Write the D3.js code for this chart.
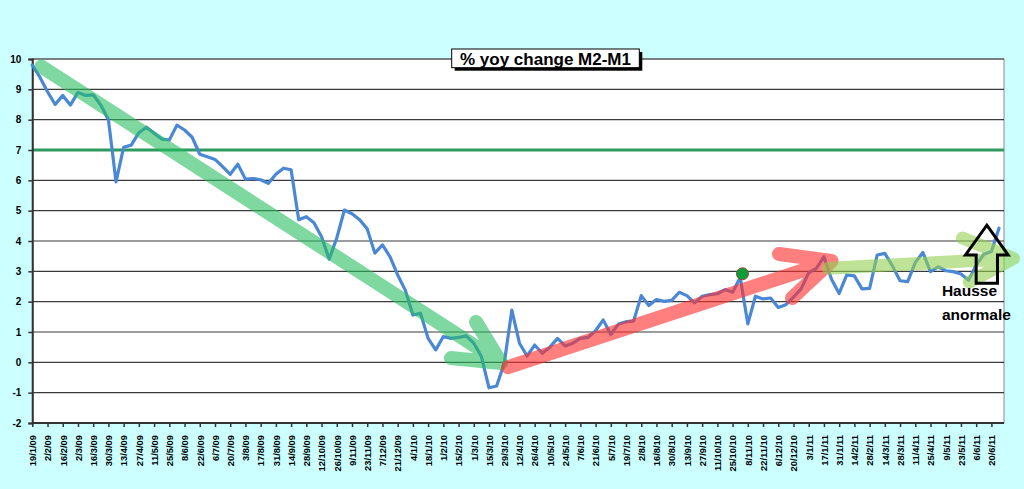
<!DOCTYPE html>
<html>
<head>
<meta charset="utf-8">
<script src="https://cdn.jsdelivr.net/npm/d3@7"></script>
<style>
html,body{margin:0;padding:0;background:#CCFFFF;}
svg{display:block;}
text{font-family:"Liberation Sans",Arial,sans-serif;}
</style>
</head>
<body>
<svg id="chart" width="1024" height="489"></svg>
<script>
// ---- data ----
const tickLabels = [
 "19/1/09","2/2/09","16/2/09","2/3/09","16/3/09","30/3/09","13/4/09","27/4/09","11/5/09","25/5/09",
 "8/6/09","22/6/09","6/7/09","20/7/09","3/8/09","17/8/09","31/8/09","14/9/09","28/9/09","12/10/09",
 "26/10/09","9/11/09","23/11/09","7/12/09","21/12/09","4/1/10","18/1/10","1/2/10","15/2/10","1/3/10",
 "15/3/10","29/3/10","12/4/10","26/4/10","10/5/10","24/5/10","7/6/10","21/6/10","5/7/10","19/7/10",
 "2/8/10","16/8/10","30/8/10","13/9/10","27/9/10","11/10/10","25/10/10","8/11/10","22/11/10","6/12/10",
 "20/12/10","3/1/11","17/1/11","31/1/11","14/2/11","28/2/11","14/3/11","28/3/11","11/4/11","25/4/11",
 "9/5/11","23/5/11","6/6/11","20/6/11"
];
// weekly values, % yoy change M2-M1
const seriesValues = [
 9.80,9.40,8.92,8.50,8.80,8.48,8.90,8.80,8.82,8.48,
 8.00,5.95,7.09,7.16,7.57,7.75,7.55,7.36,7.33,7.82,
 7.66,7.42,6.86,6.78,6.69,6.45,6.20,6.53,6.04,6.06,
 6.02,5.90,6.20,6.40,6.35,4.70,4.80,4.60,4.14,3.40,
 4.10,5.02,4.90,4.70,4.40,3.60,3.87,3.48,2.88,2.38,
 1.56,1.62,0.79,0.41,0.85,0.79,0.82,0.87,0.63,0.19,
 -0.84,-0.78,-0.03,1.72,0.63,0.21,0.57,0.30,0.50,0.79,
 0.54,0.63,0.79,0.82,1.04,1.40,0.92,1.26,1.34,1.36,
 2.20,1.87,2.07,2.01,2.04,2.31,2.20,1.96,2.18,2.23,
 2.26,2.40,2.31,2.80,1.27,2.18,2.09,2.12,1.81,1.90,
 2.15,2.42,2.95,3.10,3.48,2.74,2.27,2.88,2.85,2.42,
 2.44,3.54,3.59,3.18,2.69,2.66,3.29,3.62,2.99,3.15,
 3.02,2.99,2.91,2.71,3.20,3.56,3.65,4.42
];
const yTicks = [-2,-1,0,1,2,3,4,5,6,7,8,9,10];
const yTickLabels = ["-2","-1","0","1","2","3","4","5","6","7","8","9","10"];
const referenceLevel = 7;
const titleText = "% yoy change M2-M1";
const noteLines = ["Hausse","anormale"];
// annotation arrows in data units [index, value]
const downTrend = {from:[1.2,9.75], to:[61.6,-0.02], armA:[58.3,1.33], armB:[55.0,0.14]};
const upTrend   = {from:[62.5,-0.16], to:[105.0,3.34], armA:[98.1,3.57], armB:[99.8,2.12]};
const flatTrend = {from:[104.6,3.10], to:[128.9,3.42], armA:[122.2,4.10], armB:[123.1,2.65]};
const markerPoint = [93.3,2.92];
const blockArrow = {tip:[125.4,4.52], headY:3.54, left:122.6, right:128.2, shaftL:124.0, shaftR:126.8, bottom:2.61};
const notePos = [119.5, 2.19, 1.39];

// ---- scales ----
const svg = d3.select("#chart");
const x = d3.scaleLinear().domain([0,127]).range([32.3,999]);
const y = d3.scaleLinear().domain([-2,10]).range([423,59]);
const plotL = x(0), plotR = 1004, plotT = y(10), plotB = y(-2);

// plot background
svg.append("rect").attr("x",plotL).attr("y",plotT).attr("width",plotR-plotL).attr("height",plotB-plotT)
  .attr("fill","#ffffff").attr("stroke","#8a8a8a").attr("stroke-width",1);

// gridlines
svg.append("g").selectAll("line").data(yTicks).join("line")
  .attr("x1",plotL).attr("x2",plotR).attr("y1",d=>y(d)).attr("y2",d=>y(d))
  .attr("stroke","#3a3a3a").attr("stroke-width",1.2);

// reference line at 7
svg.append("line").attr("x1",plotL).attr("x2",plotR).attr("y1",y(referenceLevel)).attr("y2",y(referenceLevel))
  .attr("stroke","#2E9A5E").attr("stroke-width",3);

// y axis
const yAxis = d3.axisLeft(y).tickValues(yTicks).tickSize(4).tickPadding(7)
  .tickFormat((d,i)=>yTickLabels[i]);
const gy = svg.append("g").attr("transform",`translate(${plotL},0)`).call(yAxis);
gy.select(".domain").attr("stroke","#333").attr("stroke-width",2);
gy.selectAll(".tick line").attr("stroke","#333").attr("stroke-width",1.5);
gy.selectAll("text").attr("font-size",10).attr("font-weight","bold").attr("fill","#000")
  .style("font-family","'Liberation Sans',Arial,sans-serif");

// x axis
const tickIdx = tickLabels.map((_,i)=>i*2);
const xAxis = d3.axisBottom(x).tickValues(tickIdx).tickSize(4).tickFormat((d,i)=>tickLabels[i]);
const gx = svg.append("g").attr("transform",`translate(0,${plotB})`).call(xAxis);
gx.select(".domain").attr("d",`M${plotL},0H${plotR}`).attr("stroke","#333").attr("stroke-width",2);
gx.selectAll(".tick line").attr("stroke","#333").attr("stroke-width",1.5);
gx.selectAll("text")
  .attr("font-size",9.4).attr("font-weight","bold").attr("fill","#000")
  .style("font-family","'Liberation Sans',Arial,sans-serif")
  .attr("text-anchor","end")
  .attr("transform","translate(3.3,12) rotate(-90)")
  .attr("x",0).attr("y",0).attr("dy",0);

// series line
const line = d3.line().x((d,i)=>x(i)).y(d=>y(d));
svg.append("path").datum(seriesValues).attr("d",line)
  .attr("fill","none").attr("stroke","#4A88D6").attr("stroke-width",3.2)
  .attr("stroke-linejoin","round").attr("stroke-linecap","round");

// trend arrows
function drawArrow(a, color, opacity, width){
  const p = v=>[x(v[0]),y(v[1])];
  const g = svg.append("g").attr("opacity",opacity);
  const path = `M${p(a.from)}L${p(a.to)}M${p(a.armA)}L${p(a.to)}L${p(a.armB)}`;
  g.append("path").attr("d",path).attr("fill","none").attr("stroke",color)
    .attr("stroke-width",width).attr("stroke-linecap","round").attr("stroke-linejoin","round");
}
drawArrow(downTrend,"#28BE61",0.6,14);
drawArrow(upTrend,"#FF2E2E",0.62,14);
drawArrow(flatTrend,"#92D050",0.6,13);

// marker point
svg.append("circle").attr("cx",x(markerPoint[0])).attr("cy",y(markerPoint[1])).attr("r",6)
  .attr("fill","#0A9E3A").attr("stroke","#9a4a2a").attr("stroke-width",1);

// block arrow (outline)
{
  const b = blockArrow;
  const pts = [
    [x(b.tip[0]),y(b.tip[1])],[x(b.right),y(b.headY)],[x(b.shaftR),y(b.headY)],
    [x(b.shaftR),y(b.bottom)],[x(b.shaftL),y(b.bottom)],[x(b.shaftL),y(b.headY)],[x(b.left),y(b.headY)]
  ];
  svg.append("polygon").attr("points",pts.map(p=>p.join(",")).join(" "))
    .attr("fill","none").attr("stroke","#000").attr("stroke-width",3).attr("stroke-linejoin","miter");
}

// note text
svg.append("text").attr("x",x(notePos[0])).attr("y",y(notePos[1])).text(noteLines[0])
  .attr("font-size",15.5).attr("font-weight","bold").attr("fill","#000");
svg.append("text").attr("x",x(notePos[0])).attr("y",y(notePos[2])).text(noteLines[1])
  .attr("font-size",15.5).attr("font-weight","bold").attr("fill","#000");

// title box
{
  const tx=451.7, ty=49, tw=187.6, th=18.7;
  svg.append("rect").attr("x",tx+3).attr("y",ty+3).attr("width",tw).attr("height",th).attr("fill","#000");
  svg.append("rect").attr("x",tx).attr("y",ty).attr("width",tw).attr("height",th)
    .attr("fill","#fff").attr("stroke","#000").attr("stroke-width",1);
  svg.append("text").attr("x",tx+tw/2).attr("y",ty+15.6).attr("text-anchor","middle")
    .attr("font-size",17).attr("font-weight","bold").attr("fill","#000").text(titleText);
}
</script>
</body>
</html>
